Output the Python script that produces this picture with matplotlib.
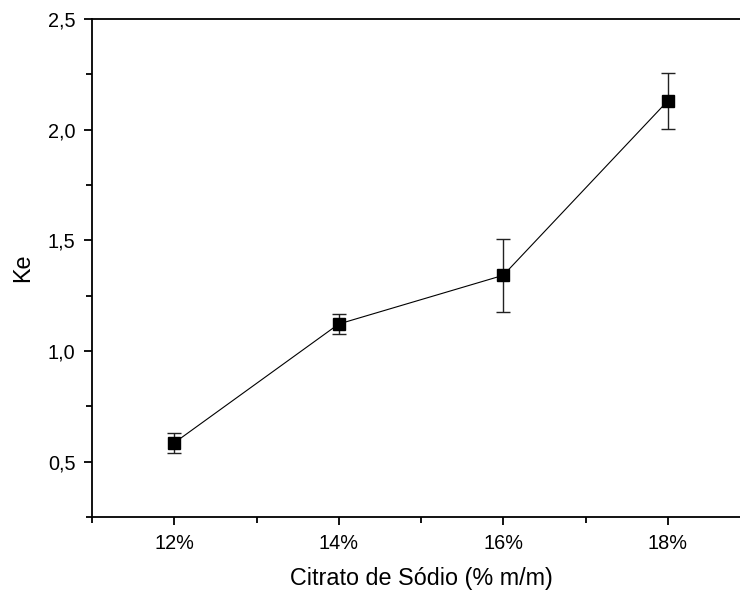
import matplotlib
matplotlib.use('Agg')
import matplotlib.pyplot as plt
from matplotlib.ticker import MultipleLocator, FuncFormatter

plt.rcParams['font.family'] = ['Liberation Sans', 'DejaVu Sans']

# dados
concentracao = [12, 14, 16, 18]
rotulos = ['12%', '14%', '16%', '18%']
ke = [0.585, 1.122, 1.342, 2.130]
erro = [0.045, 0.043, 0.165, 0.125]

fig = plt.figure(figsize=(7.4, 5.95), dpi=100)
ax = fig.add_axes([92 / 740, 1 - 517 / 595, 658 / 740, 498 / 595])

ax.plot(concentracao, ke, color='black', lw=0.8, zorder=2)
ax.errorbar(concentracao, ke, yerr=erro, fmt='s', color='black', ms=8.5,
            ecolor='#222222', elinewidth=1.0, capsize=5, capthick=1.0, zorder=3)

ax.set_xlim(11, 19)
ax.set_ylim(0.25, 2.5)
ax.set_xticks(concentracao)
ax.set_xticklabels(rotulos)
ax.xaxis.set_minor_locator(MultipleLocator(1))
ax.yaxis.set_major_locator(MultipleLocator(0.5))
ax.yaxis.set_minor_locator(MultipleLocator(0.25))
ax.yaxis.set_major_formatter(FuncFormatter(lambda v, p: f'{v:.1f}'.replace('.', ',')))

for s in ax.spines.values():
    s.set_linewidth(1.3)
ax.spines['right'].set_visible(False)

ax.tick_params(which='major', direction='out', length=6, width=1.3, labelsize=14.3, pad=6,
               top=False, right=False)
ax.tick_params(which='minor', direction='out', length=4, width=1.3, top=False, right=False)

ax.set_xlabel('Citrato de Sódio (% m/m)', fontsize=16.8, labelpad=10)
ax.set_ylabel('Ke', fontsize=16.8, labelpad=10)

fig.savefig('out.png', dpi=100)
